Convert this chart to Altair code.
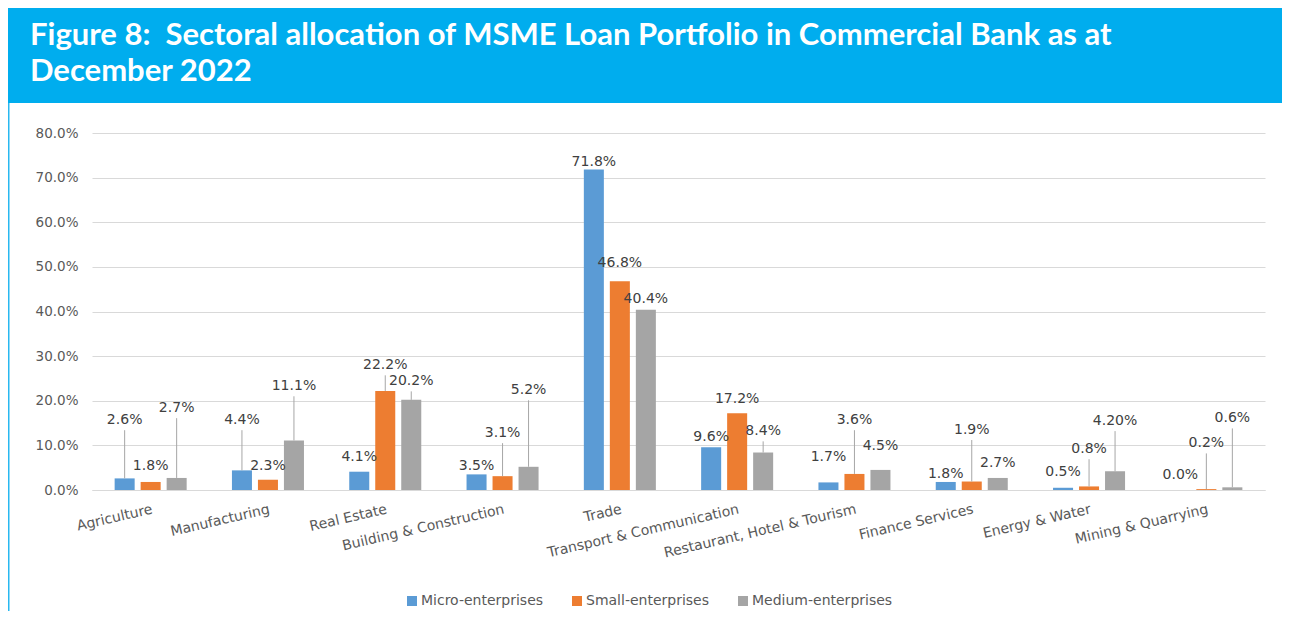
import altair as alt
import pandas as pd

sectors = ["Agriculture", "Manufacturing", "Real Estate", "Building & Construction", "Trade",
           "Transport & Communication", "Restaurant, Hotel & Tourism", "Finance Services",
           "Energy & Water", "Mining & Quarrying"]
series = ["Micro-enterprises", "Small-enterprises", "Medium-enterprises"]
colors = ["#5B9BD5", "#ED7D31", "#A5A5A5"]

micro = [2.6, 4.4, 4.1, 3.5, 71.8, 9.6, 1.7, 1.8, 0.5, 0.0]
small = [1.8, 2.3, 22.2, 3.1, 46.8, 17.2, 3.6, 1.9, 0.8, 0.2]
medium = [2.7, 11.1, 20.2, 5.2, 40.4, 8.4, 4.5, 2.7, 4.2, 0.6]

micro_text = ["2.6%", "4.4%", "4.1%", "3.5%", "71.8%", "9.6%", "1.7%", "1.8%", "0.5%", "0.0%"]
small_text = ["1.8%", "2.3%", "22.2%", "3.1%", "46.8%", "17.2%", "3.6%", "1.9%", "0.8%", "0.2%"]
medium_text = ["2.7%", "11.1%", "20.2%", "5.2%", "40.4%", "8.4%", "4.5%", "2.7%", "4.20%", "0.6%"]

# data-label heights (in % units) as placed in the original chart
micro_label_y = [15.7, 15.7, 7.4, 5.4, 73.5, 11.9, 7.4, 3.6, 4.0, 3.4]
small_label_y = [5.4, 5.4, 28.0, 12.8, 50.9, 20.4, 15.7, 13.5, 9.2, 10.5]
medium_label_y = [18.4, 23.3, 24.4, 22.4, 42.8, 13.2, 9.9, 6.1, 15.5, 16.1]

micro_leader = [1, 1, 0, 0, 0, 0, 0, 0, 0, 0]
small_leader = [0, 0, 1, 1, 0, 0, 1, 1, 1, 1]
medium_leader = [1, 1, 1, 1, 0, 1, 0, 0, 1, 1]

title_lines = ["Figure 8:\u00a0 Sectoral allocation of MSME Loan Portfolio in Commercial Bank as at",
               "December 2022"]

rows = []
for s, vals, txt, ly, ld in [
    (series[0], micro, micro_text, micro_label_y, micro_leader),
    (series[1], small, small_text, small_label_y, small_leader),
    (series[2], medium, medium_text, medium_label_y, medium_leader),
]:
    for i, sec in enumerate(sectors):
        rows.append({"sector": sec, "series": s, "value": vals[i] / 100, "label": txt[i],
                     "label_y": ly[i] / 100, "lead_top": (ly[i] - 2.3) / 100, "leader": ld[i]})
df = pd.DataFrame(rows)

W, H = 1173, 357
PL, PT, PR, PB = 84, 125, 17, 121
FONT = "DejaVu Sans"

xenc = alt.X("sector:N", sort=sectors,
             scale=alt.Scale(paddingInner=0.335, paddingOuter=0.1675),
             axis=alt.Axis(title=None, labelAngle=-13, labelAlign="right", labelBaseline="top",
                           labelPadding=12, labelFontSize=14, labelColor="#595959", labelFont=FONT,
                           domainColor="#D9D9D9", ticks=False, grid=False, labelLimit=400))
xoff = alt.XOffset("series:N", sort=series, scale=alt.Scale(paddingInner=0.23, paddingOuter=0.115))
yscale = alt.Scale(domain=[0, 0.8])

base = alt.Chart(df)

bars = base.mark_bar().encode(
    x=xenc,
    xOffset=xoff,
    y=alt.Y("value:Q", scale=yscale,
            axis=alt.Axis(title=None, format=".1%", values=[i / 10 for i in range(9)],
                          labelFontSize=13.5, labelColor="#595959", labelFont=FONT, labelPadding=14,
                          domain=False, ticks=False, gridColor="#D9D9D9")),
    color=alt.Color("series:N", sort=series, scale=alt.Scale(domain=series, range=colors),
                    legend=alt.Legend(title=None, orient="none", legendX=313, legendY=461,
                                      direction="horizontal", symbolType="square", symbolSize=100,
                                      symbolStrokeWidth=0, labelFontSize=14, labelColor="#595959",
                                      labelFont=FONT, columnPadding=26, labelOffset=2, padding=0)),
)

leaders = base.transform_filter("datum.leader == 1").mark_rule(color="#A6A6A6", strokeWidth=1).encode(
    x=alt.X("sector:N", sort=sectors), xOffset=alt.XOffset("series:N", sort=series),
    y=alt.Y("lead_top:Q", scale=yscale), y2="value:Q",
)

labels = base.mark_text(font=FONT, fontSize=14, color="#404040", baseline="middle", align="center").encode(
    x=alt.X("sector:N", sort=sectors), xOffset=alt.XOffset("series:N", sort=series),
    y=alt.Y("label_y:Q", scale=yscale), text="label:N",
)

one = pd.DataFrame({"k": [0]})
header = alt.Chart(one).mark_rect(color="#00ADEE").encode(
    x=alt.value(-PL), x2=alt.value(W + PR), y=alt.value(-PT), y2=alt.value(-30))
border = alt.Chart(one).mark_rule(color="#29B8F0", strokeWidth=1.5).encode(
    x=alt.value(-PL + 0.75), y=alt.value(-30), y2=alt.value(H + PB))
t1 = alt.Chart(one).mark_text(font="Lato", fontSize=31, fontWeight="bold", color="white",
                              align="left", baseline="alphabetic").encode(
    x=alt.value(-62), y=alt.value(-88), text=alt.value(title_lines[0]))
t2 = alt.Chart(one).mark_text(font="Lato", fontSize=31, fontWeight="bold", color="white",
                              align="left", baseline="alphabetic").encode(
    x=alt.value(-62), y=alt.value(-52), text=alt.value(title_lines[1]))

chart = alt.layer(header, border, t1, t2, bars, leaders, labels).properties(
    width=W, height=H,
    autosize=alt.AutoSizeParams(type="none"),
    padding={"left": PL, "top": PT, "right": PR, "bottom": PB},
    background="white",
).configure_view(stroke=None)

chart.save("out.html", embed_options={"renderer": "svg", "actions": False})
